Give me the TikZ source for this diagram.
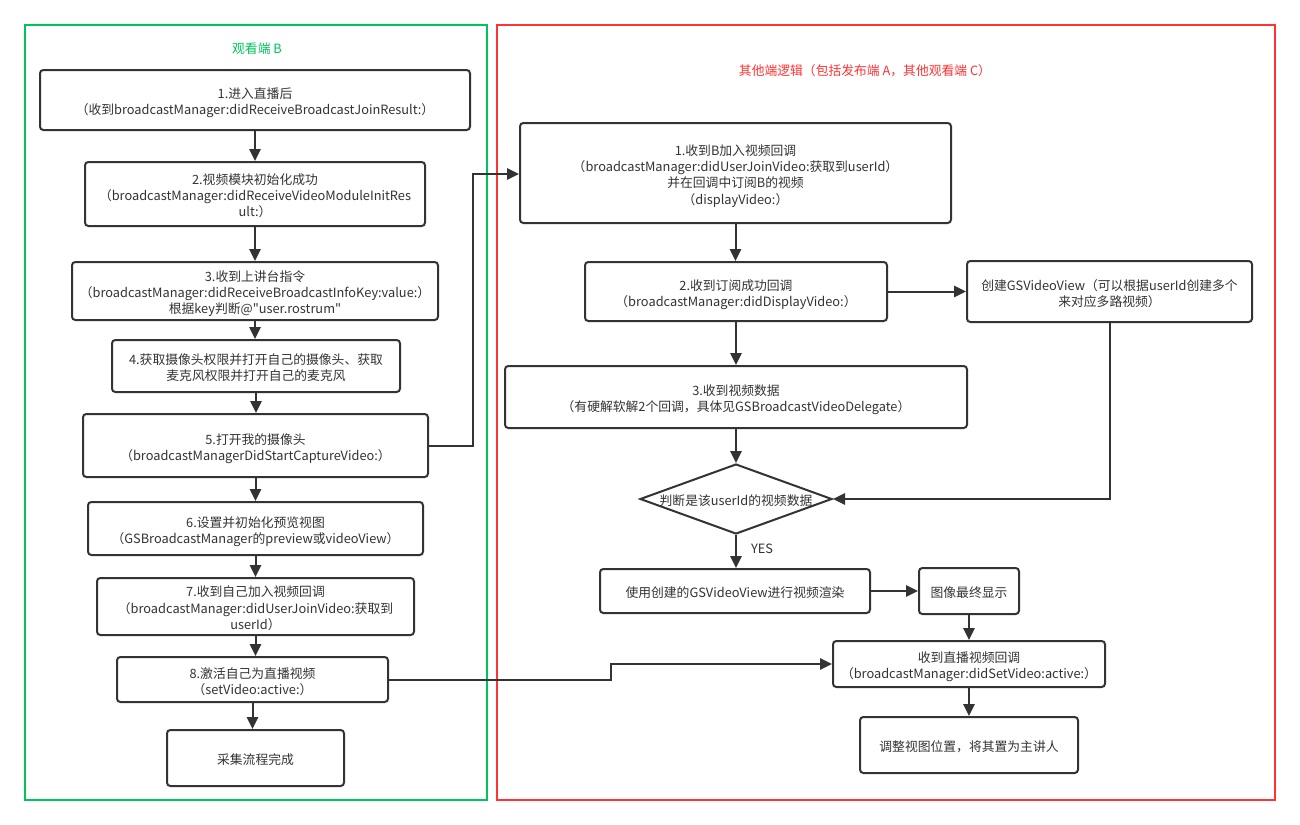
\documentclass[tikz,border=0pt]{standalone}
\usepackage{fontspec}
\setmainfont{Noto Sans CJK SC}[Ligatures=TeXOff]
\usetikzlibrary{arrows.meta,shapes.geometric}
\definecolor{ink}{HTML}{333333}
\definecolor{grn}{HTML}{00C35A}
\definecolor{rd}{HTML}{FF3333}
\newcommand{\txtfont}{\fontsize{9.6}{12.2}\selectfont}
% centred block of lines, drawn a little below the middle of its box
\newcommand{\bt}[1]{\raisebox{-2.6pt}[\height][\depth]{\begin{tabular}{@{}c@{}}#1\end{tabular}}}
\tikzset{
  box/.style={draw=ink, line width=1.5pt, rounded corners=2.5pt,
    text=ink, font=\txtfont, inner sep=2pt},
  arr/.style={draw=ink, line width=1.5pt, -{Triangle[length=9pt,width=8.5pt]}},
  frame/.style={line width=1.5pt},
  ttl/.style={font=\txtfont},
}
\begin{document}
\begin{tikzpicture}[x=0.75pt,y=-0.75pt]
\useasboundingbox (0,0) rectangle (1300,825);
\fill[white] (0,0) rectangle (1300,825);

% frames
\draw[frame, draw=grn] (25,25) rectangle (487,800);
\draw[frame, draw=rd] (497,25) rectangle (1275,800);
\node[ttl, text=grn] (tB) at (257,49) {观看端 B};
\node[ttl, text=rd] (tO) at (865,71) {其他端逻辑（包括发布端 A，其他观看端 C）};

% viewer B column
\node[box, minimum width=322.5pt, minimum height=45pt] (b1) at (255,100)
  {\bt{1.进入直播后\\（收到broadcastManager:didReceiveBroadcastJoinResult:）}};
\node[box, minimum width=255pt, minimum height=48pt] (b2) at (255,194)
  {\bt{2.视频模块初始化成功\\（broadcastManager:didReceiveVideoModuleInitRes\\ult:）}};
\node[box, minimum width=274.5pt, minimum height=43.5pt] (b3) at (255,291)
  {\bt{3.收到上讲台指令\\（broadcastManager:didReceiveBroadcastInfoKey:value:）\\根据key判断@"user.rostrum"}};
\node[box, minimum width=216pt, minimum height=39pt] (b4) at (256,366)
  {\bt{4.获取摄像头权限并打开自己的摄像头、获取\\麦克风权限并打开自己的麦克风}};
\node[box, minimum width=258.75pt, minimum height=47.25pt] (b5) at (255.5,445.5)
  {\bt{5.打开我的摄像头\\（broadcastManagerDidStartCaptureVideo:）}};
\node[box, minimum width=251.25pt, minimum height=39.75pt] (b6) at (255.5,528.5)
  {\bt{6.设置并初始化预览视图\\（GSBroadcastManager的preview或videoView）}};
\node[box, minimum width=237.75pt, minimum height=42.75pt] (b7) at (255.5,606.5)
  {\bt{7.收到自己加入视频回调\\（broadcastManager:didUserJoinVideo:获取到\\userId）}};
\node[box, minimum width=203.25pt, minimum height=33.75pt] (b8) at (252.5,679.5)
  {\bt{8.激活自己为直播视频\\（setVideo:active:）}};
\node[box, minimum width=132.75pt, minimum height=42pt] (b9) at (255.5,758)
  {\bt{采集流程完成}};

% other clients column
\node[box, minimum width=323.25pt, minimum height=75pt] (r1) at (735.5,173)
  {\bt{1.收到B加入视频回调\\（broadcastManager:didUserJoinVideo:获取到userId）\\并在回调中订阅B的视频\\（displayVideo:）}};
\node[box, minimum width=226.5pt, minimum height=44.25pt] (r2) at (736,291.5)
  {\bt{2.收到订阅成功回调\\（broadcastManager:didDisplayVideo:）}};
\node[box, minimum width=346.5pt, minimum height=46.5pt] (r3) at (736,397)
  {\bt{3.收到视频数据\\（有硬解软解2个回调，具体见GSBroadcastVideoDelegate）}};
\node[draw=ink, line width=1.5pt, diamond, inner sep=0pt,
      minimum width=144pt, minimum height=52.5pt] (dia) at (736,499) {};
\node[text=ink, font=\txtfont, yshift=-1.5pt] (diat) at (dia.center) {判断是该userId的视频数据};
\node[box, minimum width=213.75pt, minimum height=45.75pt] (side) at (1109.5,291.5)
  {\bt{创建GSVideoView（可以根据userId创建多个\\来对应多路视频）}};
\node[box, minimum width=202.5pt, minimum height=33pt] (r5) at (735,591)
  {\bt{使用创建的GSVideoView进行视频渲染}};
\node[box, minimum width=75pt, minimum height=34.5pt] (r6) at (969,591)
  {\bt{图像最终显示}};
\node[box, minimum width=204pt, minimum height=34.5pt] (r7) at (969,664)
  {\bt{收到直播视频回调\\（broadcastManager:didSetVideo:active:）}};
\node[box, minimum width=163.5pt, minimum height=42pt] (r8) at (969,745)
  {\bt{调整视图位置，将其置为主讲人}};
\node[text=ink, font=\txtfont] (yes) at (762,549) {YES};

% left column flow
\foreach \a/\b in {b1/b2,b2/b3,b3/b4,b4/b5,b5/b6,b6/b7,b7/b8,b8/b9}
  \draw[arr] (\a.south) -- (\a.south |- \b.north);

% right column flow
\draw[arr] (r1.south) -- (r1.south |- r2.north);
\draw[arr] (r2.south) -- (r2.south |- r3.north);
\draw[arr] (r3.south) -- (r3.south |- dia.north);
\draw[arr] (dia.south) -- (dia.south |- r5.north);
\draw[arr] (r2.east) -- (r2.east -| side.west);
\draw[arr] (side.south) |- (dia.east);
\draw[arr] (r5.east) -- (r5.east -| r6.west);
\draw[arr] (r6.south) -- (r6.south |- r7.north);
\draw[arr] (r7.south) -- (r7.south |- r8.north);

% cross-column links
\coordinate (j1) at (473,174);
\coordinate (j2) at (611,664);
\draw[arr] (b5.east) -| (j1) -- (j1 -| r1.west);
\draw[arr] (b8.east) -| (j2) -- (j2 -| r7.west);
\end{tikzpicture}
\end{document}
